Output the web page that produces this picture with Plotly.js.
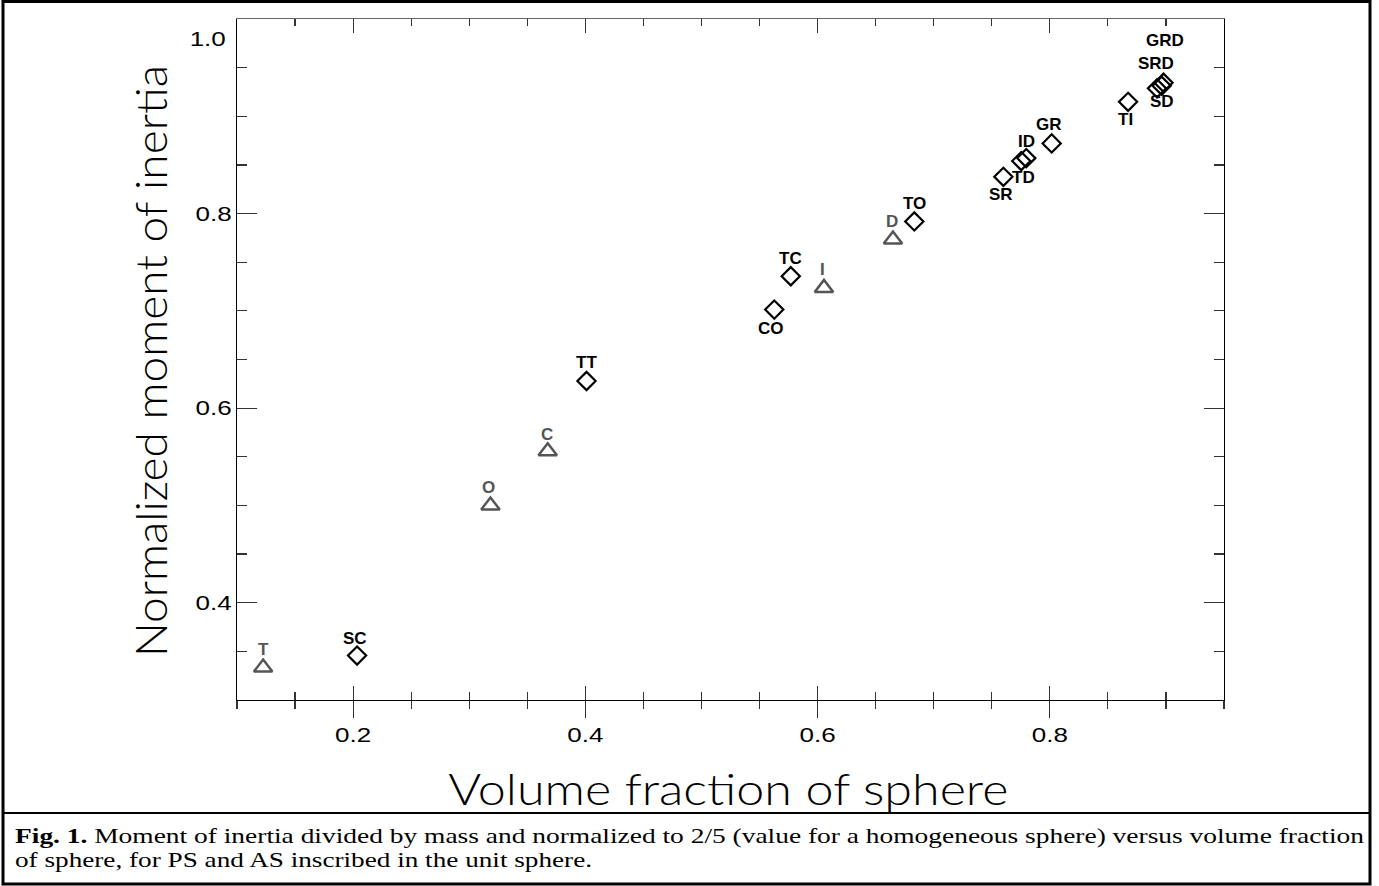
<!DOCTYPE html>
<html>
<head>
<meta charset="utf-8">
<script src="https://cdn.plot.ly/plotly-3.0.1.min.js"></script>
<style>html,body{margin:0;padding:0;background:#fff;}#chart{width:1379px;height:886px;}</style>
</head>
<body>
<div id="chart"></div>
<script>
// Platonic solids (triangles)
const platonicLabels = ["T", "O", "C", "I", "D"];
const platonicVolume = [0.1225, 0.3183, 0.3676, 0.6055, 0.6649];
const platonicInertia = [0.3333, 0.5000, 0.5556, 0.7236, 0.7733];

// Archimedean solids (diamonds)
const archLabels = ["SC", "TT", "CO", "TC", "TO", "SR", "TD", "ID", "GR", "TI", "SRD", "SD", "GRD"];
const archVolume = [0.2034, 0.4010, 0.5627, 0.5769, 0.6833, 0.7600, 0.7754, 0.7797, 0.8016, 0.8674, 0.8923, 0.8963, 0.8979];
const archInertia = [0.3457, 0.6279, 0.7013, 0.7356, 0.7919, 0.8378, 0.8540, 0.8570, 0.8721, 0.9149, 0.9287, 0.9314, 0.9345];

const xTickVals = [0.2, 0.4, 0.6, 0.8];
const xTickText = ["0.2", "0.4", "0.6", "0.8"];
const yTickVals = [0.4, 0.6, 0.8];
const yTickText = ["0.4", "0.6", "0.8"];
const yTopLabel = "1.0";

const xTitle = "Volume fraction of sphere";
const yTitle = "Normalized moment of inertia";
const caption1 = "<b>Fig. 1.</b> Moment of inertia divided by mass and normalized to 2/5 (value for a homogeneous sphere) versus volume fraction";
const caption2 = "of sphere, for PS and AS inscribed in the unit sphere.";

// label offsets in pixels [xshift, yshift]
const labelOffsets = {
  T: [0, 18], O: [-2, 18], C: [-1, 17], I: [-1, 18], D: [-1, 18],
  SC: [-2, 17], TT: [0, 19], CO: [-3, -19], TC: [0, 18], TO: [0, 18],
  SR: [-2, -18], TD: [2, -16], ID: [0, 17], GR: [-3, 19], TI: [-3, -18],
  SRD: [-1, 25], SD: [0, -16], GRD: [1, 42]
};

const GRAY = "#555555";
const labelFont = {family: "Liberation Sans, Arial, sans-serif", size: 17, color: "#000"};

const traces = [
  {
    x: platonicVolume, y: platonicInertia, type: "scatter", mode: "markers",
    marker: {symbol: "triangle-up-open", size: 16, color: GRAY, line: {width: 2.5, color: GRAY}},
    hoverinfo: "skip", showlegend: false
  },
  {
    x: archVolume, y: archInertia, type: "scatter", mode: "markers",
    marker: {symbol: "diamond-open", size: 14, color: "#000", line: {width: 2.2, color: "#000"}},
    hoverinfo: "skip", showlegend: false
  },
  {x: [], y: [], xaxis: "x2", yaxis: "y", type: "scatter", showlegend: false},
  {x: [], y: [], xaxis: "x3", yaxis: "y", type: "scatter", showlegend: false},
  {x: [], y: [], xaxis: "x", yaxis: "y2", type: "scatter", showlegend: false}
];

const annotations = [];
platonicLabels.forEach((lab, i) => {
  const o = labelOffsets[lab] || [0, 18];
  annotations.push({x: platonicVolume[i], y: platonicInertia[i], xref: "x", yref: "y", text: "<b>" + lab + "</b>",
    showarrow: false, xshift: o[0], yshift: o[1], font: Object.assign({}, labelFont, {color: GRAY})});
});
archLabels.forEach((lab, i) => {
  const o = labelOffsets[lab] || [0, 18];
  annotations.push({x: archVolume[i], y: archInertia[i], xref: "x", yref: "y", text: "<b>" + lab + "</b>",
    showarrow: false, xshift: o[0], yshift: o[1], font: labelFont});
});

const tickFont = {family: "Liberation Sans, Arial, sans-serif", size: 20, color: "#000"};
const titleFont = {family: "Lato, DejaVu Sans, sans-serif", size: 44, color: "#000", weight: 300};
const capFont = {family: "Liberation Serif, Times New Roman, serif", size: 21, color: "#000"};

annotations.push({x: 0, y: 1.0, xref: "paper", yref: "y", text: yTopLabel, showarrow: false,
  xanchor: "right", align: "right", xshift: -9, yshift: -20, font: tickFont});
annotations.push({x: 0.4975, y: -0.1292, xref: "paper", yref: "paper", text: xTitle, showarrow: false,
  xanchor: "center", yanchor: "middle", font: titleFont});
annotations.push({x: -0.0881, y: 0.4978, xref: "paper", yref: "paper", text: yTitle, showarrow: false,
  textangle: -90, xanchor: "center", yanchor: "middle", font: titleFont});
annotations.push({x: -0.2269, y: -0.1997, xref: "paper", yref: "paper", text: caption1, showarrow: false,
  xanchor: "left", align: "left", yanchor: "middle", font: capFont});
annotations.push({x: -0.2269, y: -0.2349, xref: "paper", yref: "paper", text: caption2, showarrow: false,
  xanchor: "left", align: "left", yanchor: "middle", font: capFont});

const xr = [0.1, 0.95], yr = [0.3, 1.0];
const tickCol = "#333";
const layout = {
  width: 1379, height: 886,
  margin: {l: 237, r: 155, t: 19, b: 186, pad: 0},
  paper_bgcolor: "#fff", plot_bgcolor: "#fff",
  showlegend: false,
  xaxis: {range: xr, showgrid: false, zeroline: false, showline: true, linecolor: "#000", linewidth: 1.3,
    ticks: "outside", ticklen: 17, tickwidth: 1.2, tickcolor: tickCol,
    tickvals: xTickVals, ticktext: xTickText, tickfont: tickFont,
    minor: {dtick: 0.05, ticks: "outside", ticklen: 8, tickwidth: 1.2, tickcolor: tickCol, showgrid: false}},
  xaxis2: {range: xr, overlaying: "x", side: "bottom", anchor: "y", showgrid: false, zeroline: false, showline: false,
    ticks: "inside", ticklen: 14, tickwidth: 1.2, tickcolor: tickCol, tickvals: xTickVals, showticklabels: false,
    minor: {dtick: 0.05, ticks: "inside", ticklen: 8, tickwidth: 1.2, tickcolor: tickCol, showgrid: false}},
  xaxis3: {range: xr, overlaying: "x", side: "top", anchor: "y", showgrid: false, zeroline: false, showline: true,
    linecolor: "#666", linewidth: 1.3,
    ticks: "inside", ticklen: 14, tickwidth: 1.2, tickcolor: tickCol, tickvals: xTickVals, showticklabels: false,
    minor: {dtick: 0.05, ticks: "inside", ticklen: 7, tickwidth: 1.2, tickcolor: tickCol, showgrid: false}},
  yaxis: {range: yr, showgrid: false, zeroline: false, showline: true, linecolor: "#000", linewidth: 1.3,
    ticks: "inside", ticklen: 20, tickwidth: 1.2, tickcolor: tickCol,
    tickvals: yTickVals, ticktext: yTickText, tickfont: tickFont,
    minor: {dtick: 0.05, ticks: "inside", ticklen: 10, tickwidth: 1.2, tickcolor: tickCol, showgrid: false}},
  yaxis2: {range: yr, overlaying: "y", side: "right", anchor: "x", showgrid: false, zeroline: false, showline: true,
    linecolor: "#000", linewidth: 1.3,
    ticks: "inside", ticklen: 20, tickwidth: 1.2, tickcolor: tickCol, tickvals: yTickVals, showticklabels: false,
    minor: {dtick: 0.05, ticks: "inside", ticklen: 10, tickwidth: 1.2, tickcolor: tickCol, showgrid: false}},
  annotations: annotations,
  shapes: [
    {type: "rect", xref: "paper", yref: "paper", x0: (3 - 237) / 987, x1: (1370 - 237) / 987,
      y0: (700 - 884) / 681, y1: (700 - 1.5) / 681, line: {color: "#000", width: 3}},
    {type: "line", xref: "paper", yref: "paper", x0: (3 - 237) / 987, x1: (1370 - 237) / 987,
      y0: (700 - 813) / 681, y1: (700 - 813) / 681, line: {color: "#000", width: 2}}
  ]
};

// horizontal text widths observed in the figure (px)
const textWidths = {};
textWidths[xTitle] = 560;
textWidths[yTitle] = 592;
textWidths["Fig. 1. Moment of inertia divided by mass and normalized to 2/5 (value for a homogeneous sphere) versus volume fraction"] = 1349;
textWidths[caption2] = 577;
const WIDEN = 1.3;

Plotly.newPlot("chart", traces, layout, {displayModeBar: false, staticPlot: true}).then(function () {
  function fit(el, len) {
    el.setAttribute("textLength", len);
    el.setAttribute("lengthAdjust", "spacingAndGlyphs");
  }
  document.querySelectorAll(".xtick text, .ytick text").forEach(function (t) {
    fit(t, t.getComputedTextLength() * WIDEN);
  });
  document.querySelectorAll(".annotation-text").forEach(function (t) {
    const s = t.textContent;
    if (textWidths[s] !== undefined) fit(t, textWidths[s]);
    else if (s === yTopLabel) fit(t, t.getComputedTextLength() * WIDEN);
  });
});
</script>
</body>
</html>
